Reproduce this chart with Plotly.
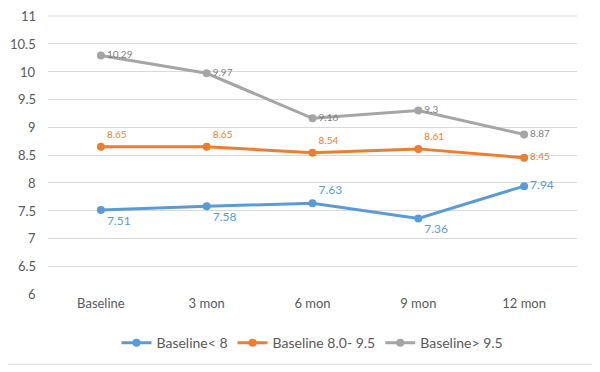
import plotly.graph_objects as go

categories = ["Baseline", "3 mon", "6 mon", "9 mon", "12 mon"]
low_vals = [7.51, 7.58, 7.63, 7.36, 7.94]
mid_vals = [8.65, 8.65, 8.54, 8.61, 8.45]
high_vals = [10.29, 9.97, 9.16, 9.3, 8.87]
low_labels = ["7.51", "7.58", "7.63", "7.36", "7.94"]
mid_labels = ["8.65", "8.65", "8.54", "8.61", "8.45"]
high_labels = ["10.29", "9.97", "9.16", "9.3", "8.87"]
y_ticks = [6, 6.5, 7, 7.5, 8, 8.5, 9, 9.5, 10, 10.5, 11]

FONT = "Lato, Carlito, Calibri, sans-serif"
BLUE, ORANGE, GRAY = "#5B9BD5", "#ED7D31", "#A5A5A5"
TICK_COLOR = "#595959"
GRID = "#D9D9D9"

fig = go.Figure()
fig.add_trace(go.Scatter(
    x=categories, y=low_vals, name="Baseline< 8", mode="lines+markers+text",
    line=dict(color=BLUE, width=3), marker=dict(size=8, color=BLUE),
    text=low_labels,
    textposition=["bottom right", "bottom right", "top right", "bottom right", "middle right"],
    textfont=dict(color=BLUE, size=12, family=FONT), cliponaxis=False))
fig.add_trace(go.Scatter(
    x=categories, y=mid_vals, name="Baseline 8.0- 9.5", mode="lines+markers+text",
    line=dict(color=ORANGE, width=3), marker=dict(size=8, color=ORANGE),
    text=mid_labels,
    textposition=["top right", "top right", "top right", "top right", "middle right"],
    textfont=dict(color=ORANGE, size=10, family=FONT), cliponaxis=False))
fig.add_trace(go.Scatter(
    x=categories, y=high_vals, name="Baseline> 9.5", mode="lines+markers+text",
    line=dict(color=GRAY, width=3), marker=dict(size=8, color=GRAY),
    text=high_labels,
    textposition=["middle right"] * 5,
    textfont=dict(color="#7F7F7F", size=10, family=FONT), cliponaxis=False))

# y tick labels as annotations (the top one would otherwise be auto-hidden at the page edge)
tick_annotations = [
    dict(x=0, xref="paper", xanchor="right", xshift=-10, y=v, yref="y", yanchor="middle",
         text=f"{v:g}", showarrow=False, font=dict(size=13, color=TICK_COLOR, family=FONT))
    for v in y_ticks
]

fig.update_layout(
    width=600, height=372,
    margin=dict(l=40, r=31, t=7, b=86, autoexpand=False),
    paper_bgcolor="white", plot_bgcolor="white",
    font=dict(family=FONT, size=13, color=TICK_COLOR),
    showlegend=True,
    legend=dict(orientation="h", x=0.5, xanchor="center", y=-0.176, yanchor="middle",
                font=dict(size=14, color=TICK_COLOR), itemwidth=30, tracegroupgap=0),
    xaxis=dict(type="category", range=[-0.5, 4.5], showgrid=False, showline=False,
               ticks="", automargin=False, tickfont=dict(size=13, color=TICK_COLOR)),
    yaxis=dict(range=[6, 11.018], tickvals=y_ticks, showticklabels=False,
               showgrid=True, gridcolor=GRID, gridwidth=1, zeroline=False,
               showline=False, ticks="", automargin=False),
    annotations=tick_annotations,
    shapes=[
        # top gridline (plotly omits the grid line at the axis end)
        dict(type="line", xref="paper", yref="y", x0=0, x1=1,
             y0=y_ticks[-1], y1=y_ticks[-1], line=dict(color=GRID, width=1), layer="below"),
        dict(type="line", xref="paper", yref="paper", x0=1.0302, x1=1.0302,
             y0=-0.2518, y1=1.03, line=dict(color=GRID, width=1), layer="below"),
        dict(type="line", xref="paper", yref="paper", x0=-0.08, x1=1.0302,
             y0=-0.2518, y1=-0.2518, line=dict(color=GRID, width=1), layer="below"),
    ],
)

fig.write_html("out.html")
